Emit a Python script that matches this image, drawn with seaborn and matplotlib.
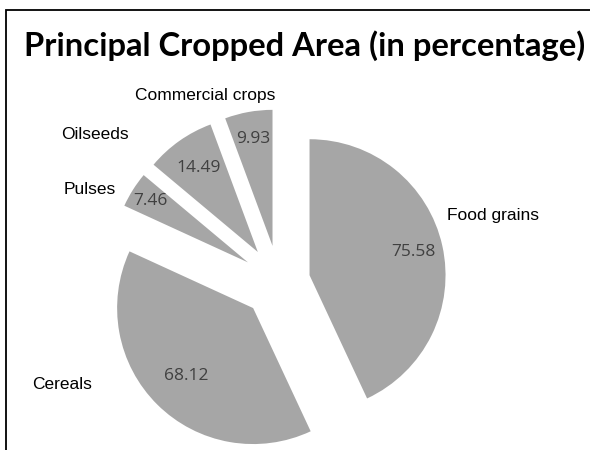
import numpy as np
import matplotlib
matplotlib.use("Agg")
import matplotlib.pyplot as plt
import seaborn as sns
from matplotlib.patches import Rectangle

# data
categories = ["Food grains", "Cereals", "Pulses", "Oilseeds", "Commercial crops"]
values = [75.58, 68.12, 7.46, 14.49, 9.93]
value_labels = ["75.58", "68.12", "7.46", "14.49", "9.93"]

# styling for each slice
explode = [0.23, 0.27, 0.27, 0.27, 0.27]
pct_dist = [0.78, 0.70, 0.85, 0.76, 0.80]
lab_offset = [-5.4, 23.4, -7.7, -19.0, -14.0]   # degrees from mid angle
lab_dist = [1.42, 1.51, 1.28, 1.48, 1.21]

sns.set_theme(style="white")
plt.rcParams['font.family'] = ['Liberation Sans', 'DejaVu Sans']

fig = plt.figure(figsize=(5.9, 4.5), dpi=100)
ax = fig.add_axes([0, 0, 1, 1])

slice_color = "#a6a6a6"
wedges, _ = ax.pie(values, startangle=90, counterclock=False, explode=explode,
                   colors=[slice_color] * len(values), radius=1.0,
                   wedgeprops=dict(linewidth=0))

for i, w in enumerate(wedges):
    cx, cy = w.center
    mid = np.deg2rad((w.theta1 + w.theta2) / 2)
    ax.text(cx + pct_dist[i] * np.cos(mid), cy + pct_dist[i] * np.sin(mid),
            value_labels[i], ha="center", va="center", fontsize=12.5,
            color="#404040", family=["Open Sans", "DejaVu Sans"])
    # label angle is measured clockwise from the mid angle
    la = mid - np.deg2rad(lab_offset[i])
    ax.text(cx + lab_dist[i] * np.cos(la), cy + lab_dist[i] * np.sin(la),
            categories[i], ha="center", va="center", fontsize=12.5, color="black")

# 1 unit = 136 px, pie centre at (279, 282) px from top-left
px = 136.0
ax.set_xlim(-279 / px, (590 - 279) / px)
ax.set_ylim(-(450 - 282) / px, 282 / px)
ax.set_aspect("equal")
ax.axis("off")

fig.text(0.5 + 10 / 590, 1 - 46 / 450, "Principal Cropped Area (in percentage)", ha="center", va="center",
         fontsize=23.6, fontweight="bold", family=["Lato", "DejaVu Sans"], color="black")

# chart area border (clipped at right and bottom)
fig.patches.append(Rectangle((6 / 590, -0.1), 1.2, 1 - 10 / 450 + 0.1, transform=fig.transFigure,
                             fill=False, edgecolor="black", linewidth=1.3))

fig.savefig("out.png", dpi=100, facecolor="white")
